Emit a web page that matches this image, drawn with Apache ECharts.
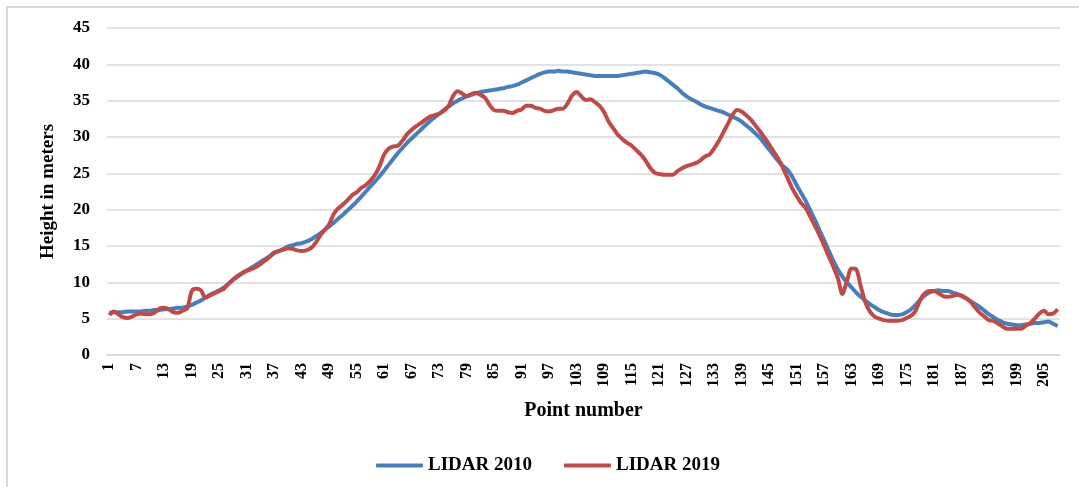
<!DOCTYPE html>
<html>
<head>
<meta charset="utf-8">
<script src="https://cdn.jsdelivr.net/npm/echarts@6/dist/echarts.min.js"></script>
<style>
  html, body { margin: 0; padding: 0; background: #fff; }
  #chart { width: 1079px; height: 487px; }
  .frame {
    position: absolute; left: 6px; top: 6px; right: 0; bottom: 0;
    border-left: 2px solid #d9d9d9; border-top: 2px solid #d9d9d9;
    pointer-events: none;
  }
</style>
</head>
<body>
<div id="chart"></div>
<div class="frame"></div>
<script>
// point numbers 1..208
const pointNumbers = []
for (let i = 1; i <= 208; i++) pointNumbers.push(String(i))

// LIDAR 2010 heights (m)
const lidar2010 = [
  5.8, 5.9, 5.9, 5.9, 6.0, 6.0, 6.0, 6.0, 6.1, 6.1,
  6.2, 6.2, 6.3, 6.3, 6.4, 6.5, 6.5, 6.7, 6.9, 7.2,
  7.5, 7.9, 8.3, 8.6, 8.9, 9.3, 9.8, 10.3, 10.8, 11.2,
  11.6, 12.0, 12.4, 12.8, 13.2, 13.6, 14.0, 14.3, 14.6, 14.9,
  15.1, 15.3, 15.4, 15.6, 15.9, 16.3, 16.7, 17.2, 17.7, 18.2,
  18.8, 19.3, 19.9, 20.5, 21.1, 21.8, 22.5, 23.2, 23.9, 24.6,
  25.4, 26.2, 27.0, 27.8, 28.5, 29.2, 29.8, 30.4, 31.0, 31.6,
  32.2, 32.7, 33.2, 33.7, 34.2, 34.6, 35.0, 35.3, 35.6, 35.8,
  36.0, 36.2, 36.3, 36.4, 36.5, 36.6, 36.7, 36.9, 37.0, 37.2,
  37.5, 37.8, 38.1, 38.4, 38.7, 38.9, 39.0, 39.0, 39.1, 39.0,
  39.0, 38.9, 38.8, 38.7, 38.6, 38.5, 38.4, 38.4, 38.4, 38.4,
  38.4, 38.4, 38.5, 38.6, 38.7, 38.8, 38.9, 39.0, 38.9, 38.8,
  38.6, 38.2, 37.7, 37.2, 36.7, 36.1, 35.6, 35.2, 34.9, 34.5,
  34.2, 34.0, 33.8, 33.6, 33.4, 33.1, 32.8, 32.5, 32.1, 31.6,
  31.1, 30.5, 29.9, 29.1, 28.3, 27.5, 26.7, 26.0, 25.5, 24.6,
  23.4, 22.3, 21.2, 19.9, 18.6, 17.2, 15.8, 14.4, 13.0, 11.8,
  10.8, 10.0, 9.3, 8.6, 8.0, 7.5, 7.0, 6.6, 6.2, 5.9,
  5.7, 5.5, 5.5, 5.6, 5.9, 6.3, 6.9, 7.6, 8.2, 8.6,
  8.8, 8.9, 8.8, 8.8, 8.6, 8.4, 8.1, 7.8, 7.4, 7.0,
  6.6, 6.1, 5.6, 5.2, 4.8, 4.5, 4.3, 4.2, 4.1, 4.1,
  4.2, 4.3, 4.4, 4.4, 4.5, 4.6, 4.3, 4.0
]

// LIDAR 2019 heights (m)
const lidar2019 = [
  5.5, 6.0, 5.6, 5.2, 5.1, 5.3, 5.6, 5.7, 5.6, 5.6,
  5.9, 6.4, 6.5, 6.3, 5.9, 5.8, 6.1, 6.4, 8.8, 9.1,
  8.9, 7.9, 8.2, 8.5, 8.8, 9.1, 9.8, 10.4, 10.9, 11.3,
  11.6, 11.8, 12.1, 12.5, 13.0, 13.5, 14.1, 14.3, 14.5, 14.7,
  14.6, 14.4, 14.3, 14.4, 14.7, 15.4, 16.4, 17.2, 18.0, 19.4,
  20.2, 20.7, 21.3, 22.0, 22.4, 23.0, 23.4, 24.0, 24.8, 26.0,
  27.6, 28.4, 28.7, 28.8, 29.5, 30.4, 31.0, 31.5, 31.9, 32.4,
  32.8, 33.0, 33.2, 33.6, 34.2, 35.6, 36.3, 36.0, 35.6, 35.9,
  36.1, 35.8, 35.4, 34.4, 33.7, 33.6, 33.6, 33.4, 33.3, 33.6,
  33.8, 34.3, 34.3, 34.0, 33.9, 33.6, 33.5, 33.7, 33.9, 33.9,
  34.6, 35.7, 36.2, 35.6, 35.1, 35.2, 34.8, 34.3, 33.4, 32.1,
  31.2, 30.3, 29.7, 29.2, 28.8, 28.2, 27.6, 26.8, 25.8, 25.1,
  24.9, 24.8, 24.8, 24.8, 25.3, 25.7, 26.0, 26.2, 26.4, 26.8,
  27.3, 27.6, 28.4, 29.4, 30.6, 31.8, 33.0, 33.7, 33.5, 33.0,
  32.4, 31.6, 30.8, 29.9, 29.0, 28.0, 27.0, 25.8, 24.4, 23.0,
  21.9, 20.9, 20.2, 19.0, 17.8, 16.5, 15.1, 13.6, 12.2, 10.6,
  8.4, 10.2, 11.9, 11.8, 9.5, 7.3, 6.0, 5.3, 5.0, 4.8,
  4.7, 4.7, 4.7, 4.8, 5.1, 5.4, 6.1, 7.6, 8.5, 8.8,
  8.8, 8.5, 8.1, 8.0, 8.1, 8.3, 8.2, 7.8, 7.3, 6.5,
  5.8, 5.3, 4.8, 4.7, 4.3, 3.9, 3.6, 3.6, 3.6, 3.6,
  4.0, 4.4, 5.0, 5.7, 6.1, 5.6, 5.7, 6.3
]

const fontFamily = '"Liberation Serif", "Times New Roman", serif'

const chart = echarts.init(document.getElementById('chart'))
const option = {
  animation: false,
  textStyle: { fontFamily: fontFamily, color: '#000' },
  grid: { left: 107, right: 19, top: 28, bottom: 132 },
  legend: {
    left: 371,
    top: 451,
    icon: 'roundRect',
    itemWidth: 47,
    itemHeight: 4,
    itemGap: 32,
    textStyle: { fontFamily: fontFamily, fontSize: 19, fontWeight: 'bold', color: '#000' },
    data: ['LIDAR 2010', 'LIDAR 2019']
  },
  xAxis: {
    type: 'category',
    data: pointNumbers,
    boundaryGap: true,
    name: 'Point number',
    nameLocation: 'middle',
    nameGap: 46,
    nameTextStyle: { fontFamily: fontFamily, fontSize: 20, fontWeight: 'bold', color: '#000', verticalAlign: 'top' },
    axisTick: { show: false },
    axisLine: { show: true, lineStyle: { color: '#d9d9d9', width: 1.5 } },
    axisLabel: {
      interval: 5,
      rotate: 90,
      margin: 8,
      fontFamily: fontFamily,
      fontSize: 16,
      fontWeight: 'bold',
      color: '#000'
    },
    splitLine: { show: false }
  },
  yAxis: {
    type: 'value',
    min: 0,
    max: 45,
    interval: 5,
    name: 'Height in meters',
    nameLocation: 'middle',
    nameGap: 49,
    nameTextStyle: { fontFamily: fontFamily, fontSize: 19, fontWeight: 'bold', color: '#000' },
    axisLine: { show: false },
    axisTick: { show: false },
    axisLabel: { margin: 17, fontFamily: fontFamily, fontSize: 17, fontWeight: 'bold', color: '#000' },
    splitLine: { show: true, lineStyle: { color: '#d9d9d9', width: 1.5 } }
  },
  series: [
    {
      name: 'LIDAR 2010',
      type: 'line',
      data: lidar2010,
      symbol: 'none',
      smooth: 0.3,
      lineStyle: { color: '#4a7ebb', width: 4 },
      itemStyle: { color: '#4a7ebb' }
    },
    {
      name: 'LIDAR 2019',
      type: 'line',
      data: lidar2019,
      symbol: 'none',
      smooth: 0.3,
      lineStyle: { color: '#be4b48', width: 4 },
      itemStyle: { color: '#be4b48' }
    }
  ]
}
chart.setOption(option)
</script>
</body>
</html>
